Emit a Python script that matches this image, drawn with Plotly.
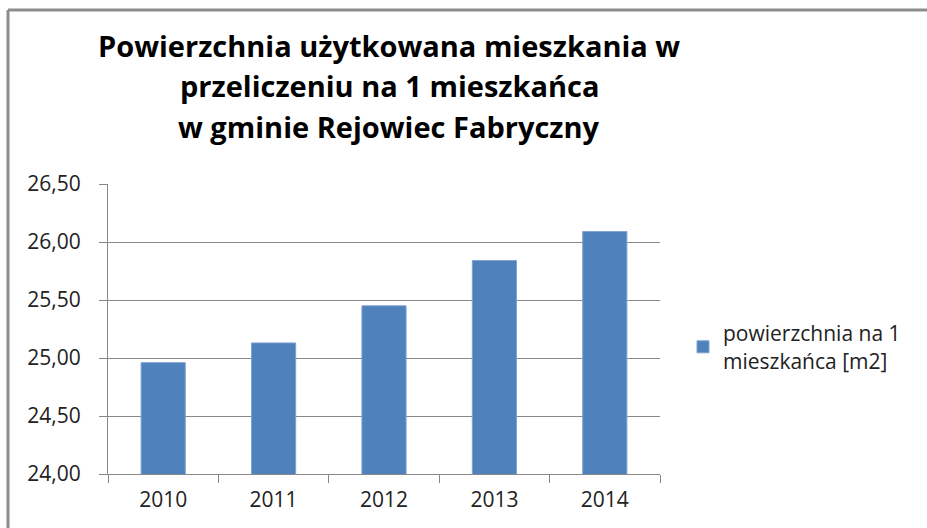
import plotly.graph_objects as go

years = ["2010", "2011", "2012", "2013", "2014"]
values = [24.96, 25.13, 25.45, 25.84, 26.09]
series_name = "powierzchnia na 1<br>mieszkańca [m2]"
title_lines = [
    "Powierzchnia użytkowana mieszkania w",
    "przeliczeniu na 1 mieszkańca",
    "w gminie Rejowiec Fabryczny",
]

W, H = 927, 528
L, R, T, B = 108, 267, 184, 54
pw, ph = W - L - R, H - T - B

fig = go.Figure()
fig.add_trace(go.Bar(
    x=years, y=values, name=series_name,
    marker=dict(color="#4F81BD", line=dict(color="#7EA3D2", width=1)),
    width=0.4, showlegend=True,
))

font_family = "Open Sans, Lato, sans-serif"

fig.update_layout(
    width=W, height=H,
    margin=dict(l=L, r=R, t=T, b=B, autoexpand=False),
    paper_bgcolor="white", plot_bgcolor="white",
    separators=", ",
    font=dict(family=font_family, size=20, color="#222222"),
    showlegend=True,
    legend=dict(
        x=(683 - L) / pw, y=(H - B - 347) / ph, xanchor="left", yanchor="middle",
        xref="paper", yref="paper",
        font=dict(family=font_family, size=21, color="#222222"),
        bgcolor="rgba(0,0,0,0)", itemwidth=30,
    ),
    bargap=0.6,
)

# title as three centred lines
for i, (line, yc) in enumerate(zip(title_lines, [45, 85, 126])):
    fig.add_annotation(
        text="<b>" + line + "</b>", showarrow=False,
        xref="paper", yref="paper",
        x=(389 - L) / pw, y=1 + (T - yc) / ph,
        xanchor="center", yanchor="middle",
        font=dict(family=font_family, size=29, color="#000000"),
    )

fig.update_yaxes(
    range=[24, 26.5], dtick=0.5, tick0=24, tickformat=".2f",
    showgrid=True, gridcolor="#888888", gridwidth=1,
    showline=True, linecolor="#888888", linewidth=1,
    ticks="outside", ticklen=8, tickcolor="#888888",
    ticklabelstandoff=14,
    tickfont=dict(family=font_family, size=21, color="#222222"),
    zeroline=False, fixedrange=True,
)
fig.update_xaxes(
    type="category",
    showline=True, linecolor="#888888", linewidth=1,
    ticks="outside", ticklen=8, tickcolor="#888888", tickson="boundaries",
    ticklabelstandoff=7,
    showgrid=False,
    tickfont=dict(family=font_family, size=21, color="#222222"),
    fixedrange=True,
)

# outer chart frame (partially visible: top and left edges)
fig.add_shape(type="line", xref="paper", yref="paper",
              x0=(8 - L) / pw, x1=(W + 20 - L) / pw,
              y0=1 + (T - 10) / ph, y1=1 + (T - 10) / ph,
              line=dict(color="#8C8C8C", width=3))
fig.add_shape(type="line", xref="paper", yref="paper",
              x0=(8 - L) / pw, x1=(8 - L) / pw,
              y0=1 + (T - 10) / ph, y1=-(B + 20) / ph,
              line=dict(color="#8C8C8C", width=3))

fig.write_html("out.html")
